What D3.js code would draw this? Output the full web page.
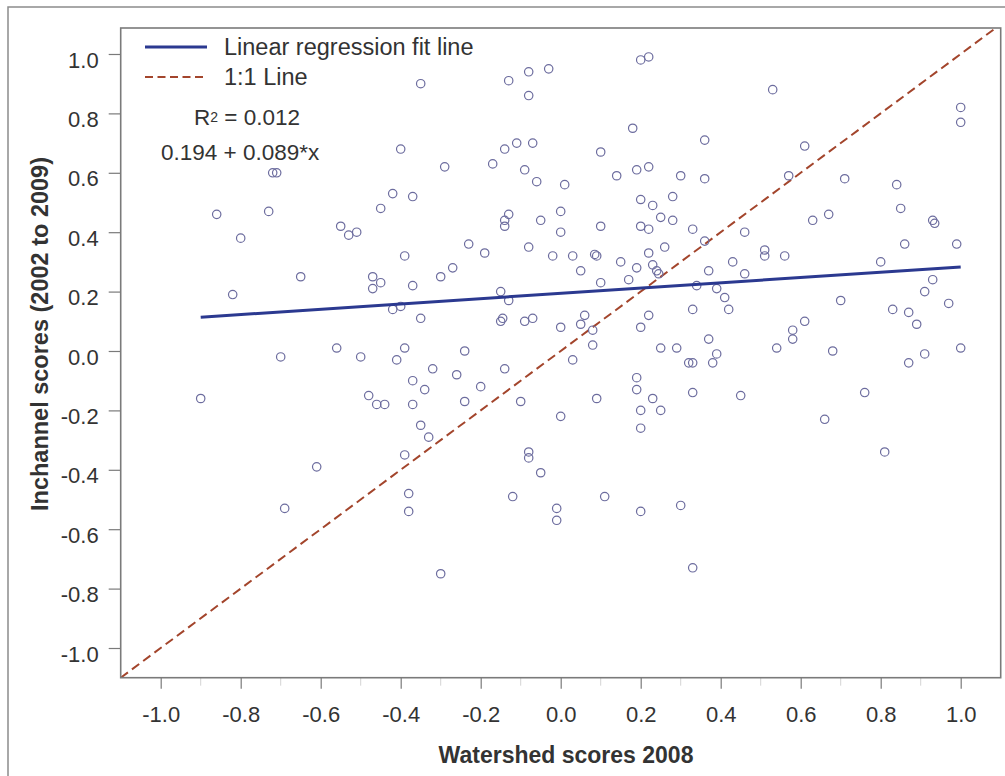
<!DOCTYPE html>
<html>
<head>
<meta charset="utf-8">
<script src="https://cdn.jsdelivr.net/npm/d3@7/dist/d3.min.js"></script>
<style>
  html, body { margin: 0; padding: 0; background: #fff; }
  svg { display: block; font-family: "Liberation Sans", Arial, Helvetica, sans-serif; }
</style>
</head>
<body>
<svg id="chart" width="1005" height="776"></svg>
<script>
// Watershed scores (2008) against in-channel scores (2002 to 2009)
const watershed = [
  -0.40, -0.72, -0.71, -0.42, -0.37, -0.45, -0.86, -0.73, -0.55, -0.53,
  -0.51, -0.80, -0.39, -0.65, -0.47, -0.45, -0.47, -0.37, -0.82, -0.40,
  -0.42, -0.56, -0.39,
  0.20, 0.22, -0.35, -0.13, -0.08, -0.03, -0.08, 0.18, 0.36, 0.10,
  -0.11, -0.07, -0.14, -0.17, -0.09, -0.06, 0.01, -0.29, 0.14, 0.19,
  0.22, 0.30, 0.36, 0.20, 0.23, 0.28, 0.00, -0.13, -0.14, -0.14,
  -0.05, 0.10, 0.00, 0.20, 0.22, 0.25, 0.28, 0.33, 0.36, -0.23,
  -0.19, -0.08, -0.02, 0.03, 0.09, 0.085, 0.15, 0.22, 0.26, 0.05,
  0.19, 0.23, 0.24, 0.245, 0.17, 0.10, -0.30, -0.27, -0.15, -0.13,
  0.34, 0.33, -0.35, -0.15, -0.145, -0.09, -0.07, 0.00, 0.05, 0.06,
  0.08, 0.20, 0.22, -0.24, 0.08, 0.25, 0.29,
  0.53, 1.00, 1.00, 0.61, 0.71, 0.57, 0.84, 0.85, 0.63, 0.67,
  0.93, 0.935, 0.46, 0.51, 0.51, 0.56, 0.86, 0.99, 0.43, 0.80,
  0.37, 0.46, 0.93, 0.39, 0.41, 0.42, 0.91, 0.70, 0.83, 0.87,
  0.89, 0.97, 0.58, 0.58, 0.61, 0.37, 0.54, 0.68, 0.91, 1.00,
  0.39,
  -0.70, -0.50, -0.41, -0.37, -0.90, -0.48, -0.46, -0.44, -0.37, -0.39,
  -0.61, -0.38, -0.38, -0.69,
  -0.32, -0.34, -0.26, -0.20, -0.14, -0.24, -0.10, -0.35, -0.33, 0.03,
  0.32, 0.33, 0.19, 0.19, 0.23, 0.25, 0.20, 0.20, 0.33, 0.09,
  0.00, -0.08, -0.08, -0.05, -0.12, -0.01, -0.01, 0.11, 0.20, 0.30,
  0.33, -0.30,
  0.38, 0.87, 0.45, 0.76, 0.66, 0.81
];
const inchannel = [
  0.68, 0.60, 0.60, 0.53, 0.52, 0.48, 0.46, 0.47, 0.42, 0.39,
  0.40, 0.38, 0.32, 0.25, 0.25, 0.23, 0.21, 0.22, 0.19, 0.15,
  0.14, 0.01, 0.01,
  0.98, 0.99, 0.90, 0.91, 0.94, 0.95, 0.86, 0.75, 0.71, 0.67,
  0.70, 0.70, 0.68, 0.63, 0.61, 0.57, 0.56, 0.62, 0.59, 0.61,
  0.62, 0.59, 0.58, 0.51, 0.49, 0.52, 0.47, 0.46, 0.44, 0.42,
  0.44, 0.42, 0.40, 0.42, 0.41, 0.45, 0.44, 0.41, 0.37, 0.36,
  0.33, 0.35, 0.32, 0.32, 0.32, 0.325, 0.30, 0.33, 0.35, 0.27,
  0.28, 0.29, 0.27, 0.26, 0.24, 0.23, 0.25, 0.28, 0.20, 0.17,
  0.22, 0.14, 0.11, 0.10, 0.11, 0.10, 0.11, 0.08, 0.09, 0.12,
  0.07, 0.08, 0.12, 0.00, 0.02, 0.01, 0.01,
  0.88, 0.82, 0.77, 0.69, 0.58, 0.59, 0.56, 0.48, 0.44, 0.46,
  0.44, 0.43, 0.40, 0.34, 0.32, 0.32, 0.36, 0.36, 0.30, 0.30,
  0.27, 0.26, 0.24, 0.21, 0.18, 0.14, 0.20, 0.17, 0.14, 0.13,
  0.09, 0.16, 0.07, 0.04, 0.10, 0.04, 0.01, 0.00, -0.01, 0.01,
  -0.01,
  -0.02, -0.02, -0.03, -0.10, -0.16, -0.15, -0.18, -0.18, -0.18, -0.35,
  -0.39, -0.48, -0.54, -0.53,
  -0.06, -0.13, -0.08, -0.12, -0.06, -0.17, -0.17, -0.25, -0.29, -0.03,
  -0.04, -0.04, -0.09, -0.13, -0.16, -0.20, -0.20, -0.26, -0.14, -0.16,
  -0.22, -0.34, -0.36, -0.41, -0.49, -0.53, -0.57, -0.49, -0.54, -0.52,
  -0.73, -0.75,
  -0.04, -0.04, -0.15, -0.14, -0.23, -0.34
];

// Fitted line and its summary, as printed on the chart
const fitIntercept = 0.194;
const fitSlope = 0.089;
const rSquared = "0.012";

const tickValues = [-1.0, -0.8, -0.6, -0.4, -0.2, 0.0, 0.2, 0.4, 0.6, 0.8, 1.0];
const minorTickValues = [-0.9, -0.7, -0.5, -0.3, -0.1, 0.1, 0.3, 0.5, 0.7, 0.9];
const legendLabels = ["Linear regression fit line", "1:1 Line"];
const xTitle = "Watershed scores 2008";
const yTitle = "Inchannel scores (2002 to 2009)";

const points = watershed.map((w, i) => ({ x: w, y: inchannel[i] }));

const svg = d3.select("#chart");
const textColor = "#333";
const axisColor = "#7a7a7a";

// Outer figure frame
svg.append("rect")
  .attr("x", 8).attr("y", 7)
  .attr("width", 1010).attr("height", 790)
  .attr("fill", "none")
  .attr("stroke", "#8c8c8c")
  .attr("stroke-width", 1.5);

const x = d3.scaleLinear().domain([-1.1, 1.1]).range([120.7, 1000.7]);
const y = d3.scaleLinear().domain([-1.1, 1.0875]).range([677.7, 28]);

const plotLeft = x.range()[0], plotRight = x.range()[1];
const plotTop = y.range()[1], plotBottom = y.range()[0];

svg.append("defs").append("clipPath").attr("id", "plotClip")
  .append("rect")
  .attr("x", plotLeft).attr("y", plotTop)
  .attr("width", plotRight - plotLeft).attr("height", plotBottom - plotTop);

const fmt = d => d.toFixed(1);

// Y axis
const yAxis = svg.append("g")
  .attr("transform", `translate(${plotLeft},0)`)
  .call(d3.axisLeft(y).tickValues(tickValues).tickFormat(fmt).tickSize(12).tickSizeOuter(0).tickPadding(10));
yAxis.select(".domain").remove();
yAxis.selectAll(".tick line").attr("stroke", axisColor).attr("stroke-width", 1.2);
yAxis.selectAll(".tick text")
  .attr("fill", textColor)
  .attr("font-size", "22px")
  .attr("dy", "0.6em");

// X axis
const xAxis = svg.append("g")
  .attr("transform", `translate(0,${plotBottom})`)
  .call(d3.axisBottom(x).tickValues(tickValues).tickFormat(fmt).tickSize(11).tickSizeOuter(0));
xAxis.select(".domain").remove();
xAxis.selectAll(".tick line").attr("stroke", axisColor).attr("stroke-width", 1.2);
xAxis.selectAll(".tick text")
  .attr("fill", textColor)
  .attr("font-size", "22px")
  .attr("y", 44.3)
  .attr("dy", 0);

// Faint minor ticks on the x axis
svg.append("g").selectAll("line")
  .data(minorTickValues)
  .join("line")
  .attr("x1", d => x(d)).attr("x2", d => x(d))
  .attr("y1", plotBottom).attr("y2", plotBottom + 8)
  .attr("stroke", "#d4d4d4")
  .attr("stroke-width", 1);

// Axis titles
svg.append("text")
  .attr("x", 566).attr("y", 763)
  .attr("text-anchor", "middle")
  .attr("font-size", "23px")
  .attr("font-weight", "bold")
  .attr("fill", textColor)
  .text(xTitle);

svg.append("text")
  .attr("transform", "translate(48,334) rotate(-90)")
  .attr("text-anchor", "middle")
  .attr("font-size", "23.5px")
  .attr("font-weight", "bold")
  .attr("fill", textColor)
  .text(yTitle);

const plot = svg.append("g").attr("clip-path", "url(#plotClip)");

// 1:1 reference line across the full plotting region
plot.append("line")
  .attr("x1", x(-1.1)).attr("y1", y(-1.1))
  .attr("x2", x(1.1)).attr("y2", y(1.1))
  .attr("stroke", "#a3452c")
  .attr("stroke-width", 2)
  .attr("stroke-dasharray", "9,5");

// Data points
plot.append("g").selectAll("circle")
  .data(points)
  .join("circle")
  .attr("cx", d => x(d.x))
  .attr("cy", d => y(d.y))
  .attr("r", 4.2)
  .attr("fill", "none")
  .attr("stroke", "#6c6c9e")
  .attr("stroke-width", 1.2);

// Regression line over the observed watershed range
const xExtent = d3.extent(watershed);
plot.append("line")
  .attr("x1", x(xExtent[0])).attr("y1", y(fitIntercept + fitSlope * xExtent[0]))
  .attr("x2", x(xExtent[1])).attr("y2", y(fitIntercept + fitSlope * xExtent[1]))
  .attr("stroke", "#2b3990")
  .attr("stroke-width", 3);

// Plot box
svg.append("rect")
  .attr("x", plotLeft).attr("y", plotTop)
  .attr("width", plotRight - plotLeft).attr("height", plotBottom - plotTop)
  .attr("fill", "none")
  .attr("stroke", axisColor)
  .attr("stroke-width", 1.6);

// Legend
const legend = svg.append("g");
legend.append("line")
  .attr("x1", 145).attr("x2", 207).attr("y1", 47).attr("y2", 47)
  .attr("stroke", "#2b3990").attr("stroke-width", 3);
legend.append("line")
  .attr("x1", 145).attr("x2", 207).attr("y1", 77).attr("y2", 77)
  .attr("stroke", "#a3452c").attr("stroke-width", 2)
  .attr("stroke-dasharray", "8,4.5");
legend.selectAll("text")
  .data(legendLabels)
  .join("text")
  .attr("x", 224)
  .attr("y", (d, i) => 55 + i * 30)
  .attr("font-size", "23.5px")
  .attr("fill", textColor)
  .text(d => d);

// Fit summary
const r2 = svg.append("text")
  .attr("x", 194).attr("y", 125)
  .attr("font-size", "22.5px")
  .attr("fill", textColor);
r2.append("tspan").text("R");
r2.append("tspan").attr("font-size", "14px").attr("dy", -3).text("2");
r2.append("tspan").attr("dy", 3).text(" = " + rSquared);

svg.append("text")
  .attr("x", 161).attr("y", 160)
  .attr("font-size", "22.5px")
  .attr("fill", textColor)
  .text(`${fitIntercept} + ${fitSlope}*x`);
</script>
</body>
</html>
